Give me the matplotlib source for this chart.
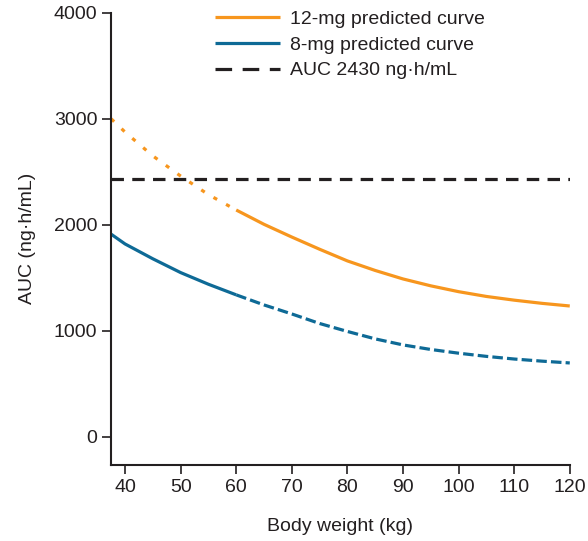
import matplotlib
matplotlib.use("Agg")
import matplotlib.pyplot as plt
from matplotlib.lines import Line2D
import numpy as np

plt.rcParams['font.family'] = ['Liberation Sans', 'DejaVu Sans']

# body weight grid (kg) and predicted AUC (ng·h/mL) per dose
weight = [37.5, 40, 45, 50, 55, 60, 65, 70, 75, 80, 85, 90, 95, 100, 105, 110, 115, 120]
auc_12mg = [3000, 2875, 2650, 2460, 2285, 2140, 2005, 1885, 1770, 1660, 1570, 1490,
            1425, 1370, 1325, 1290, 1260, 1235]
auc_8mg = [1912, 1820, 1680, 1550, 1440, 1340, 1245, 1160, 1070, 995, 925, 868,
           825, 790, 760, 735, 715, 698]
auc_target = 2430
cutoff = 60  # lower edge of the studied weight range

x_ticks = [40, 50, 60, 70, 80, 90, 100, 110, 120]
y_ticks = [0, 1000, 2000, 3000, 4000]

orange = '#F7961E'
blue = '#0E6A96'
ink = '#231F20'
fs = 14

w = np.array(weight)
a12 = np.array(auc_12mg)
a8 = np.array(auc_8mg)
lo = w <= cutoff
hi = w >= cutoff

fig = plt.figure(figsize=(5.88, 5.41), dpi=100)
ax = fig.add_axes([0.189, 0.1405, 0.78, 0.836])

lw = 2.3
ax.axhline(auc_target, color=ink, lw=lw, linestyle=(0, (3.9, 2.6)), zorder=1)
ax.plot(w[lo], a12[lo], color=orange, lw=lw, linestyle=(0, (1.3, 3.2)), zorder=2)
l12, = ax.plot(w[hi], a12[hi], color=orange, lw=lw, solid_capstyle='butt', zorder=2)
l8, = ax.plot(w[lo], a8[lo], color=blue, lw=lw, solid_capstyle='butt', zorder=2)
ax.plot(w[hi], a8[hi], color=blue, lw=lw, linestyle=(0, (3.3, 1.3)), zorder=2)

ax.set_xlim(37.5, 120)
ax.set_ylim(-264, 4000)
ax.set_xticks(x_ticks)
ax.set_yticks(y_ticks)

for side in ('top', 'right'):
    ax.spines[side].set_visible(False)
for side in ('left', 'bottom'):
    ax.spines[side].set_color(ink)
    ax.spines[side].set_linewidth(1.5)

ax.tick_params(axis='both', direction='out', length=6.5, width=1.2, color=ink,
               labelsize=fs, labelcolor=ink, pad=3.5)

ax.set_xlabel('Body weight (kg)', fontsize=fs, color=ink, labelpad=16)
ax.set_ylabel('AUC (ng·h/mL)', fontsize=fs, color=ink, labelpad=13)

# legend swatch for the threshold uses longer dashes than the plotted line
target_key = Line2D([], [], color=ink, lw=lw, linestyle=(0, (5.2, 3.3)))
handles = [l12, l8, target_key]
labels = ['12-mg predicted curve', '8-mg predicted curve', 'AUC 2430 ng·h/mL']
fig.legend(handles, labels, loc='upper left', bbox_to_anchor=(215 / 588, 0.981),
           frameon=False, fontsize=fs, handlelength=3.35, handletextpad=0.5,
           labelspacing=0.42, borderpad=0, borderaxespad=0, labelcolor=ink)

fig.savefig('out.png', dpi=100)
